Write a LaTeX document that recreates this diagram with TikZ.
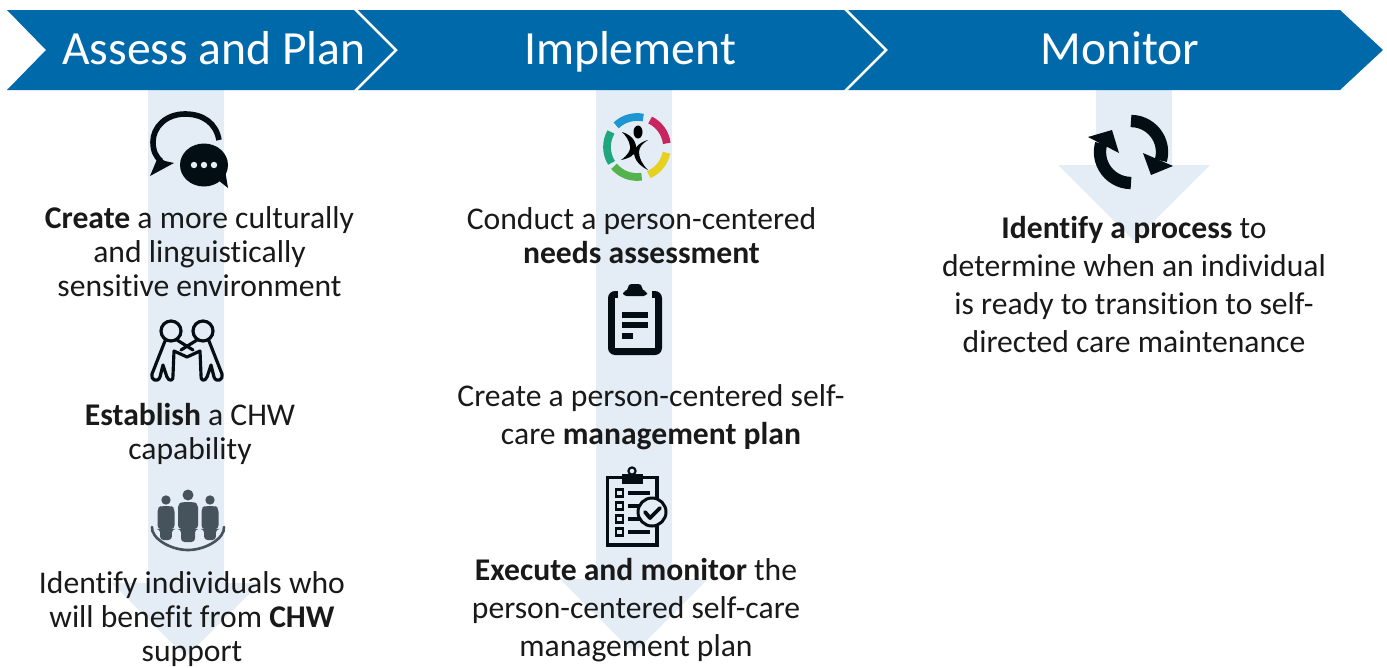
\documentclass[tikz,border=0pt]{standalone}
\usepackage{fontspec}
\setmainfont{Carlito}[Ligatures=CommonOff]
\definecolor{headblue}{HTML}{0069AA}
\definecolor{palearrow}{HTML}{E4EDF5}
\definecolor{iconblack}{HTML}{030D14}
\definecolor{icongrey}{HTML}{46525C}
\tikzset{
  chevron/.style={fill=headblue},
  downarrow/.style={fill=palearrow},
  headtext/.style={text=white, anchor=base, inner sep=0pt, font=\fontsize{27.1}{31}\selectfont},
  bodytext/.style={align=center, text=black!90, inner sep=0pt, font=\fontsize{18}{19.3}\selectfont},
  widetext/.style={bodytext, font=\fontsize{18}{21.5}\selectfont},
  iconline/.style={draw=iconblack, line cap=round, line join=round},
  iconfill/.style={fill=iconblack}
}
\begin{document}
\begin{tikzpicture}[x=0.02cm, y=-0.02cm]
\useasboundingbox (0,0) rectangle (1387,667);

\fill[downarrow] (148,90) -- (224,90) -- (224,583) -- (260,583) -- (186,657) -- (112,583) -- (148,583) -- cycle;
\fill[downarrow] (596,90) -- (672,90) -- (672,579) -- (708,579) -- (634,653) -- (560,579) -- (596,579) -- cycle;
\fill[downarrow] (1096,90) -- (1172,90) -- (1172,165) -- (1210,165) -- (1134,241) -- (1058,165) -- (1096,165) -- cycle;

\fill[chevron] (7,10) -- (354,10) -- (394,50) -- (354,90) -- (7,90) -- (46,50) -- cycle;
\fill[chevron] (358,10) -- (844,10) -- (884,50) -- (844,90) -- (358,90) -- (398,50) -- cycle;
\fill[chevron] (848,10) -- (1340,10) -- (1383,50) -- (1340,90) -- (848,90) -- (888,50) -- cycle;

\node (assess) [headtext] at (214,64) {Assess and Plan};
\node (implement) [headtext] at (630,64) {Implement};
\node (monitor) [headtext] at (1120,64) {Monitor};

\node (create) [bodytext] at (199.5,252) {\textbf{Create} a more culturally\\and linguistically\\sensitive environment};
\node (establish) [bodytext] at (190,434) {\textbf{Establish} a CHW\\capability};
\node (identify) [bodytext] at (192,619) {Identify individuals who\\will benefit from \textbf{CHW}\\support};
\node (conduct) [bodytext] at (641.5,235.5) {Conduct a person-centered\\\textbf{needs assessment}};
\node (plan) [widetext] at (651,417) {Create a person-centered self-\\care \textbf{management plan}};
\node (execute) [widetext] at (636,610) {\textbf{Execute and monitor} the\\person-centered self-care\\management plan};
\node (process) [widetext] at (1134,284.5) {\textbf{Identify a process} to\\determine when an individual\\is ready to transition to self-\\directed care maintenance};

% speech bubbles
\draw[iconline, line width=3.2pt, line cap=butt] (219,140) .. controls (216,123) and (203,114) .. (185,114) .. controls (166,114) and (153,127) .. (153,142) .. controls (153,151) and (156,157) .. (161,161);
\fill[iconfill] (158,157) -- (165,161) -- (174,163) -- (150,176) -- cycle;
\fill[iconfill] (204,165) ellipse [x radius=24, y radius=21.5];
\fill[iconfill] (218,180) -- (228,188) -- (225,170) -- cycle;
\foreach \dotx in {194,204,214} \fill[palearrow] (\dotx,165) circle (3.2);

% handshake
\foreach \mirror/\shiftx in {1/0,-1/374} {
\begin{scope}[shift={(\shiftx,0)}, xscale=\mirror]
\draw[iconline, line width=1.8pt] (171,331) circle (10);
\draw[iconline, line width=1.8pt] (165,341) -- (152,374) .. controls (150,380) and (158,383) .. (160,377) -- (163,365) -- (167,377) .. controls (169,382) and (174,381) .. (173,375) -- (174,351) -- (187,357);
\draw[iconline, line width=1.8pt] (177,340) -- (193,350);
\end{scope}
}

% group
\foreach \cx/\hy/\by/\s in {166/500/506/0.85, 188/495/502/1, 210/500/506/0.85} {
\fill[icongrey] (\cx,\hy) circle (5.5*\s);
\fill[icongrey, rounded corners=2pt] (\cx-10*\s,\by+2) -- (\cx-10*\s,\by+27*\s) -- (\cx-7*\s,\by+27*\s) -- (\cx-7*\s,\by+40*\s) -- (\cx+7*\s,\by+40*\s) -- (\cx+7*\s,\by+27*\s) -- (\cx+10*\s,\by+27*\s) -- (\cx+10*\s,\by+2) -- (\cx+6*\s,\by) -- (\cx-6*\s,\by) -- cycle;
}
\draw[icongrey, line width=1.5pt, line cap=round] (152,527) .. controls (151,538) and (170,550) .. (188,550) .. controls (206,550) and (225,538) .. (224,527);

% person logo
\foreach \col/\startang/\endang in {1E96D4/226/282, C8255F/296/353, E6D020/11/67, 55B34F/81/140, 1FA67F/148/210} {
\definecolor{ringcol}{HTML}{\col}
\draw[ringcol, line width=4.4pt] ({637+30*cos(\startang)},{147+30*sin(\startang)}) arc [start angle=\startang, end angle=\endang, radius=30];
}
\fill[black] (638,132) ellipse [x radius=4.5, y radius=6.5];
\fill[black] (622,132) .. controls (632,135) and (637,142) .. (636,150) .. controls (635,155) and (630,158) .. (621,160) .. controls (628,155) and (631,150) .. (630,146) .. controls (629,140) and (626,136) .. (622,132) -- cycle;
\fill[black] (648,140) .. controls (640,142) and (634,148) .. (634,152) .. controls (634,160) and (640,166) .. (648,170) .. controls (642,164) and (639,158) .. (639,152) .. controls (639,147) and (643,143) .. (648,140) -- cycle;

% clipboard
\fill[iconfill, rounded corners=4pt] (608,291) rectangle (662,355);
\fill[palearrow] (615,298) rectangle (655,348);
\fill[palearrow] (618,291) rectangle (652,298);
\fill[iconfill, rounded corners=2pt] (623,296) -- (623,291) -- (628,291) -- (628,284) -- (642,284) -- (642,291) -- (647,291) -- (647,296) -- cycle;
\fill[iconfill] (622,312) rectangle (648,317.5);
\fill[iconfill] (622,322) rectangle (648,328);
\fill[iconfill] (622,333) rectangle (633,339);

% checklist
\draw[iconline, line width=2.2pt, line cap=butt, line join=miter] (607.5,477.5) rectangle (657,545);
\draw[iconline, line width=1.2pt] (632,471) circle (3.6);
\fill[iconfill] (622,474) rectangle (643,484);
\foreach \rowy in {493,506,519,532} \draw[iconline, line width=1.5pt, line join=miter] (616,\rowy-3.5) rectangle (623,\rowy+3.5);
\foreach \rowy/\rowx in {493/650, 506/640, 519/640, 532/650} \fill[iconfill] (628,\rowy-2) rectangle (\rowx,\rowy+2);
\draw[draw=iconblack, fill=palearrow, line width=1.7pt] (652,512) circle (14);
\draw[iconline, line width=2.2pt] (645,512) -- (650,518) -- (660,508);

% refresh arrows
\draw[iconblack, line width=7pt] (1131,121) arc [start angle=270, end angle=376, radius=31];
\fill[iconfill] (1143,153) -- (1173,166) -- (1151,175) -- cycle;
\draw[iconblack, line width=7pt] (1131,183) arc [start angle=90, end angle=196, radius=31];
\fill[iconfill] (1088,137) -- (1119,153) -- (1112,130) -- cycle;
\end{tikzpicture}
\end{document}
